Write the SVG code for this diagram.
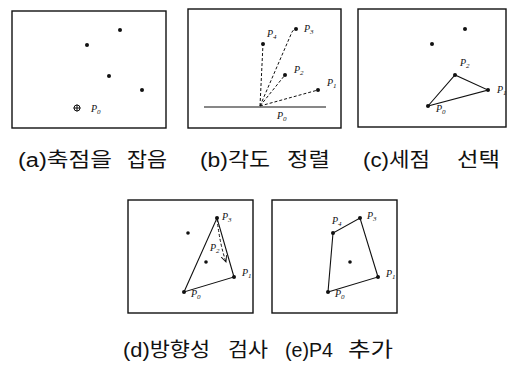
<svg xmlns="http://www.w3.org/2000/svg" width="509" height="367" viewBox="0 0 509 367">
<style>
.box{fill:none;stroke:#111;stroke-width:1.4}
.ln{fill:none;stroke:#111;stroke-width:1.1}
.dash{fill:none;stroke:#111;stroke-width:1;stroke-dasharray:3 2}
.dot{fill:#111}
.lbl{font-family:"Liberation Serif",serif;font-style:italic;font-size:10px;fill:#111}
.sub{font-size:7px}
.cap{font-family:"Liberation Sans","Noto Sans CJK KR",sans-serif;font-size:20px;fill:#111}
</style>
<defs>
<marker id="arr" viewBox="0 0 10 10" refX="9" refY="5" markerWidth="7" markerHeight="7" orient="auto" markerUnits="userSpaceOnUse">
<path d="M0,1 L9,5 L0,9" fill="none" stroke="#111" stroke-width="1.3"/>
</marker>
</defs>
<rect width="509" height="367" fill="#fff"/>

<g id="panel-a">
<rect class="box" x="12" y="11" width="154" height="117"/>
<circle class="dot" cx="120" cy="30" r="2"/>
<circle class="dot" cx="87" cy="45" r="2"/>
<circle class="dot" cx="109" cy="76" r="2"/>
<circle class="dot" cx="142" cy="90" r="2"/>
<circle cx="77" cy="108" r="3" fill="none" stroke="#111" stroke-width="1"/>
<path d="M73.5,108 H80.5 M77,104.5 V111.5" stroke="#111" stroke-width="1"/>
<text class="lbl" x="91" y="112">P<tspan class="sub" dy="2">0</tspan></text>
</g>

<g id="panel-b">
<rect class="box" x="188" y="9" width="153" height="119"/>
<line class="ln" x1="204" y1="107" x2="326" y2="107"/>
<circle class="dot" cx="263" cy="44" r="2"/>
<circle class="dot" cx="296" cy="29" r="2"/>
<circle class="dot" cx="285" cy="75" r="2"/>
<circle class="dot" cx="318" cy="90" r="2"/>
<text class="lbl" x="267" y="37">P<tspan class="sub" dy="2">4</tspan></text>
<text class="lbl" x="304" y="32">P<tspan class="sub" dy="2">3</tspan></text>
<text class="lbl" x="294" y="73">P<tspan class="sub" dy="2">2</tspan></text>
<text class="lbl" x="327" y="86">P<tspan class="sub" dy="2">1</tspan></text>
<text class="lbl" x="277" y="119">P<tspan class="sub" dy="2">0</tspan></text>
</g>

<g id="panel-c">
<rect class="box" x="358" y="9" width="148" height="118"/>
<circle class="dot" cx="465" cy="29" r="2"/>
<circle class="dot" cx="432" cy="44" r="2"/>
<circle class="dot" cx="455" cy="75" r="2"/>
<circle class="dot" cx="488" cy="90" r="2"/>
<circle class="dot" cx="428" cy="106" r="2"/>
<text class="lbl" x="460" y="66">P<tspan class="sub" dy="2">2</tspan></text>
<text class="lbl" x="497" y="93">P<tspan class="sub" dy="2">1</tspan></text>
<text class="lbl" x="436" y="112">P<tspan class="sub" dy="2">0</tspan></text>
</g>

<g id="panel-d">
<rect class="box" x="128" y="200" width="125" height="113"/>
<circle class="dot" cx="188" cy="233" r="1.8"/>
<circle class="dot" cx="206" cy="262" r="1.8"/>
<circle class="dot" cx="217" cy="218" r="2"/>
<circle class="dot" cx="234" cy="277" r="2"/>
<circle class="dot" cx="184" cy="292" r="2"/>
<text class="lbl" x="222" y="220">P<tspan class="sub" dy="2">3</tspan></text>
<text class="lbl" x="210" y="251">P<tspan class="sub" dy="2">2</tspan></text>
<text class="lbl" x="242" y="276">P<tspan class="sub" dy="2">1</tspan></text>
<text class="lbl" x="191" y="297">P<tspan class="sub" dy="2">0</tspan></text>
</g>

<g id="panel-e">
<rect class="box" x="272" y="200" width="125" height="113"/>
<circle class="dot" cx="350" cy="262" r="1.8"/>
<circle class="dot" cx="333" cy="233" r="2"/>
<circle class="dot" cx="360" cy="218" r="2"/>
<circle class="dot" cx="378" cy="277" r="2"/>
<circle class="dot" cx="328" cy="292" r="2"/>
<text class="lbl" x="332" y="224">P<tspan class="sub" dy="2">4</tspan></text>
<text class="lbl" x="367" y="219">P<tspan class="sub" dy="2">3</tspan></text>
<text class="lbl" x="386" y="277">P<tspan class="sub" dy="2">1</tspan></text>
<text class="lbl" x="335" y="297">P<tspan class="sub" dy="2">0</tspan></text>
</g>

<g id="connectors">
<path class="dash" d="M260,106 L263,44"/>
<path class="dash" d="M260,106 L292,32 Q294,29 296,29"/>
<path class="dash" d="M260,106 L285,75"/>
<path class="dash" d="M260,106 L318,90"/>
<path class="ln" d="M428,106 L455,75 L488,90 Z"/>
<path class="ln" d="M184,292 L217,218 L234,277 Z"/>
<path class="dash" d="M217,219 Q220,245 226,262" marker-end="url(#arr)"/>
<path class="ln" d="M328,292 L333,233 L360,218 L378,277 Z"/>
</g>

<g id="captions">
<text class="cap" x="18" y="167" textLength="94" lengthAdjust="spacingAndGlyphs">(a)축점을</text>
<text class="cap" x="127" y="167" textLength="40" lengthAdjust="spacingAndGlyphs">잡음</text>
<text class="cap" x="200" y="167" textLength="70" lengthAdjust="spacingAndGlyphs">(b)각도</text>
<text class="cap" x="287" y="167" textLength="43" lengthAdjust="spacingAndGlyphs">정렬</text>
<text class="cap" x="363" y="167" textLength="67" lengthAdjust="spacingAndGlyphs">(c)세점</text>
<text class="cap" x="457" y="167" textLength="43" lengthAdjust="spacingAndGlyphs">선택</text>
<text class="cap" x="123" y="357" textLength="87" lengthAdjust="spacingAndGlyphs">(d)방향성</text>
<text class="cap" x="228" y="357" textLength="40" lengthAdjust="spacingAndGlyphs">검사</text>
<text class="cap" x="285" y="357" textLength="48" lengthAdjust="spacingAndGlyphs">(e)P4</text>
<text class="cap" x="348" y="357" textLength="45" lengthAdjust="spacingAndGlyphs">추가</text>
</g>
</svg>
